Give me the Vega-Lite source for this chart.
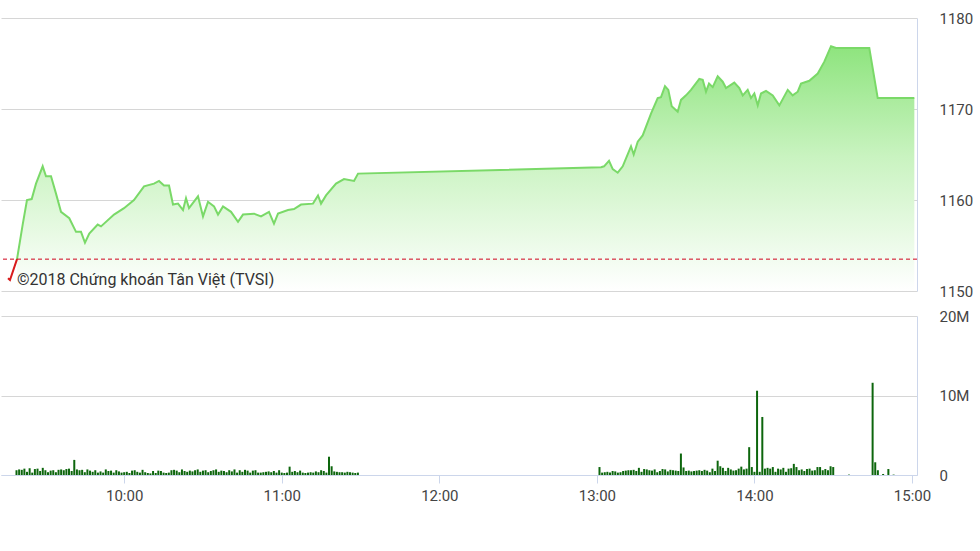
{
  "$schema": "https://vega.github.io/schema/vega-lite/v6.json",
  "padding": {"left": 0, "top": 11, "right": 0, "bottom": 0},
  "background": "white",
  "spacing": 25,
  "bounds": "flush",
  "config": {
    "view": {"stroke": null},
    "font": "Roboto",
    "axis": {"labelFont": "Roboto", "labelFontSize": 15, "labelColor": "#444444", "gridColor": "#d6d6d6", "domainColor": "#ccd6eb", "tickColor": "#ccd6eb", "title": null}
  },
  "datasets": {
    "open": [
      {"t": "2018/01/01 09:17:38", "p": 1151.4},
      {"t": "2018/01/01 09:18:23", "p": 1151.2},
      {"t": "2018/01/01 09:21:02", "p": 1153.5}
    ],
    "price": [
      {"t": "2018/01/01 09:21:02", "p": 1153.5},
      {"t": "2018/01/01 09:23:10", "p": 1157.3},
      {"t": "2018/01/01 09:24:47", "p": 1160.0},
      {"t": "2018/01/01 09:26:34", "p": 1160.1},
      {"t": "2018/01/01 09:28:11", "p": 1161.8},
      {"t": "2018/01/01 09:30:42", "p": 1163.7},
      {"t": "2018/01/01 09:31:57", "p": 1162.6},
      {"t": "2018/01/01 09:33:50", "p": 1162.6},
      {"t": "2018/01/01 09:35:43", "p": 1160.7},
      {"t": "2018/01/01 09:37:36", "p": 1158.7},
      {"t": "2018/01/01 09:40:43", "p": 1158.0},
      {"t": "2018/01/01 09:43:15", "p": 1156.5},
      {"t": "2018/01/01 09:45:08", "p": 1156.5},
      {"t": "2018/01/01 09:46:38", "p": 1155.3},
      {"t": "2018/01/01 09:48:15", "p": 1156.3},
      {"t": "2018/01/01 09:51:25", "p": 1157.3},
      {"t": "2018/01/01 09:52:40", "p": 1157.1},
      {"t": "2018/01/01 09:57:34", "p": 1158.4},
      {"t": "2018/01/01 10:01:20", "p": 1159.1},
      {"t": "2018/01/01 10:05:05", "p": 1160.0},
      {"t": "2018/01/01 10:08:52", "p": 1161.5},
      {"t": "2018/01/01 10:12:38", "p": 1161.8},
      {"t": "2018/01/01 10:14:31", "p": 1162.1},
      {"t": "2018/01/01 10:16:23", "p": 1161.6},
      {"t": "2018/01/01 10:18:17", "p": 1161.6},
      {"t": "2018/01/01 10:19:47", "p": 1159.5},
      {"t": "2018/01/01 10:21:40", "p": 1159.6},
      {"t": "2018/01/01 10:23:33", "p": 1158.9},
      {"t": "2018/01/01 10:24:41", "p": 1160.2},
      {"t": "2018/01/01 10:25:49", "p": 1159.1},
      {"t": "2018/01/01 10:29:12", "p": 1160.4},
      {"t": "2018/01/01 10:31:05", "p": 1158.2},
      {"t": "2018/01/01 10:32:58", "p": 1159.8},
      {"t": "2018/01/01 10:35:14", "p": 1159.3},
      {"t": "2018/01/01 10:36:44", "p": 1158.4},
      {"t": "2018/01/01 10:38:37", "p": 1159.3},
      {"t": "2018/01/01 10:41:38", "p": 1158.7},
      {"t": "2018/01/01 10:44:16", "p": 1157.6},
      {"t": "2018/01/01 10:46:09", "p": 1158.4},
      {"t": "2018/01/01 10:50:17", "p": 1158.5},
      {"t": "2018/01/01 10:52:56", "p": 1158.2},
      {"t": "2018/01/01 10:55:56", "p": 1158.7},
      {"t": "2018/01/01 10:57:49", "p": 1157.4},
      {"t": "2018/01/01 10:59:20", "p": 1158.5},
      {"t": "2018/01/01 11:03:06", "p": 1158.9},
      {"t": "2018/01/01 11:05:22", "p": 1159.0},
      {"t": "2018/01/01 11:08:00", "p": 1159.5},
      {"t": "2018/01/01 11:12:31", "p": 1159.6},
      {"t": "2018/01/01 11:14:24", "p": 1160.5},
      {"t": "2018/01/01 11:15:32", "p": 1159.6},
      {"t": "2018/01/01 11:17:25", "p": 1160.5},
      {"t": "2018/01/01 11:21:11", "p": 1161.8},
      {"t": "2018/01/01 11:24:11", "p": 1162.3},
      {"t": "2018/01/01 11:27:58", "p": 1162.1},
      {"t": "2018/01/01 11:29:28", "p": 1162.9},
      {"t": "2018/01/01 13:01:00", "p": 1163.6},
      {"t": "2018/01/01 13:02:08", "p": 1163.7},
      {"t": "2018/01/01 13:04:00", "p": 1164.3},
      {"t": "2018/01/01 13:05:24", "p": 1163.4},
      {"t": "2018/01/01 13:07:17", "p": 1163.0},
      {"t": "2018/01/01 13:09:10", "p": 1163.7},
      {"t": "2018/01/01 13:12:17", "p": 1165.9},
      {"t": "2018/01/01 13:13:18", "p": 1165.0},
      {"t": "2018/01/01 13:14:49", "p": 1166.4},
      {"t": "2018/01/01 13:16:41", "p": 1167.1},
      {"t": "2018/01/01 13:19:49", "p": 1169.5},
      {"t": "2018/01/01 13:22:20", "p": 1171.2},
      {"t": "2018/01/01 13:23:35", "p": 1171.3},
      {"t": "2018/01/01 13:25:05", "p": 1172.5},
      {"t": "2018/01/01 13:26:20", "p": 1172.1},
      {"t": "2018/01/01 13:27:37", "p": 1170.3},
      {"t": "2018/01/01 13:29:52", "p": 1169.7},
      {"t": "2018/01/01 13:31:07", "p": 1171.0},
      {"t": "2018/01/01 13:33:00", "p": 1171.5},
      {"t": "2018/01/01 13:34:53", "p": 1172.1},
      {"t": "2018/01/01 13:38:01", "p": 1173.3},
      {"t": "2018/01/01 13:39:18", "p": 1173.2},
      {"t": "2018/01/01 13:40:32", "p": 1171.9},
      {"t": "2018/01/01 13:41:40", "p": 1172.8},
      {"t": "2018/01/01 13:43:04", "p": 1172.4},
      {"t": "2018/01/01 13:44:56", "p": 1173.6},
      {"t": "2018/01/01 13:46:49", "p": 1173.0},
      {"t": "2018/01/01 13:48:04", "p": 1172.3},
      {"t": "2018/01/01 13:51:11", "p": 1172.9},
      {"t": "2018/01/01 13:53:05", "p": 1172.3},
      {"t": "2018/01/01 13:54:22", "p": 1171.5},
      {"t": "2018/01/01 13:56:14", "p": 1172.1},
      {"t": "2018/01/01 13:57:29", "p": 1171.2},
      {"t": "2018/01/01 13:58:44", "p": 1171.7},
      {"t": "2018/01/01 14:00:01", "p": 1170.4},
      {"t": "2018/01/01 14:01:15", "p": 1171.7},
      {"t": "2018/01/01 14:03:08", "p": 1172.0},
      {"t": "2018/01/01 14:05:40", "p": 1171.5},
      {"t": "2018/01/01 14:08:09", "p": 1170.4},
      {"t": "2018/01/01 14:11:19", "p": 1172.1},
      {"t": "2018/01/01 14:13:11", "p": 1171.5},
      {"t": "2018/01/01 14:15:05", "p": 1171.9},
      {"t": "2018/01/01 14:16:19", "p": 1172.8},
      {"t": "2018/01/01 14:19:27", "p": 1173.1},
      {"t": "2018/01/01 14:22:37", "p": 1173.9},
      {"t": "2018/01/01 14:25:06", "p": 1175.2},
      {"t": "2018/01/01 14:27:37", "p": 1176.9},
      {"t": "2018/01/01 14:29:30", "p": 1176.7},
      {"t": "2018/01/01 14:42:02", "p": 1176.7},
      {"t": "2018/01/01 14:45:12", "p": 1171.2},
      {"t": "2018/01/01 14:59:00", "p": 1171.2}
    ],
    "volume": [
      {"t": "2018/01/01 09:19", "v": 600000},
      {"t": "2018/01/01 09:20", "v": 700000},
      {"t": "2018/01/01 09:21", "v": 650000},
      {"t": "2018/01/01 09:22", "v": 800000},
      {"t": "2018/01/01 09:23", "v": 400000},
      {"t": "2018/01/01 09:24", "v": 850000},
      {"t": "2018/01/01 09:25", "v": 300000},
      {"t": "2018/01/01 09:26", "v": 750000},
      {"t": "2018/01/01 09:27", "v": 800000},
      {"t": "2018/01/01 09:28", "v": 500000},
      {"t": "2018/01/01 09:29", "v": 900000},
      {"t": "2018/01/01 09:30", "v": 600000},
      {"t": "2018/01/01 09:31", "v": 350000},
      {"t": "2018/01/01 09:32", "v": 550000},
      {"t": "2018/01/01 09:33", "v": 600000},
      {"t": "2018/01/01 09:34", "v": 350000},
      {"t": "2018/01/01 09:35", "v": 650000},
      {"t": "2018/01/01 09:36", "v": 700000},
      {"t": "2018/01/01 09:37", "v": 600000},
      {"t": "2018/01/01 09:38", "v": 750000},
      {"t": "2018/01/01 09:39", "v": 800000},
      {"t": "2018/01/01 09:40", "v": 500000},
      {"t": "2018/01/01 09:41", "v": 1900000},
      {"t": "2018/01/01 09:42", "v": 700000},
      {"t": "2018/01/01 09:43", "v": 600000},
      {"t": "2018/01/01 09:44", "v": 650000},
      {"t": "2018/01/01 09:45", "v": 350000},
      {"t": "2018/01/01 09:46", "v": 700000},
      {"t": "2018/01/01 09:47", "v": 550000},
      {"t": "2018/01/01 09:48", "v": 400000},
      {"t": "2018/01/01 09:49", "v": 600000},
      {"t": "2018/01/01 09:50", "v": 300000},
      {"t": "2018/01/01 09:51", "v": 450000},
      {"t": "2018/01/01 09:52", "v": 300000},
      {"t": "2018/01/01 09:53", "v": 700000},
      {"t": "2018/01/01 09:54", "v": 500000},
      {"t": "2018/01/01 09:55", "v": 550000},
      {"t": "2018/01/01 09:56", "v": 300000},
      {"t": "2018/01/01 09:57", "v": 600000},
      {"t": "2018/01/01 09:58", "v": 450000},
      {"t": "2018/01/01 09:59", "v": 300000},
      {"t": "2018/01/01 10:00", "v": 350000},
      {"t": "2018/01/01 10:01", "v": 400000},
      {"t": "2018/01/01 10:02", "v": 250000},
      {"t": "2018/01/01 10:03", "v": 550000},
      {"t": "2018/01/01 10:04", "v": 600000},
      {"t": "2018/01/01 10:05", "v": 400000},
      {"t": "2018/01/01 10:06", "v": 300000},
      {"t": "2018/01/01 10:07", "v": 650000},
      {"t": "2018/01/01 10:08", "v": 350000},
      {"t": "2018/01/01 10:09", "v": 250000},
      {"t": "2018/01/01 10:10", "v": 200000},
      {"t": "2018/01/01 10:11", "v": 500000},
      {"t": "2018/01/01 10:12", "v": 250000},
      {"t": "2018/01/01 10:13", "v": 550000},
      {"t": "2018/01/01 10:14", "v": 500000},
      {"t": "2018/01/01 10:15", "v": 300000},
      {"t": "2018/01/01 10:16", "v": 250000},
      {"t": "2018/01/01 10:17", "v": 300000},
      {"t": "2018/01/01 10:18", "v": 600000},
      {"t": "2018/01/01 10:19", "v": 650000},
      {"t": "2018/01/01 10:20", "v": 550000},
      {"t": "2018/01/01 10:21", "v": 350000},
      {"t": "2018/01/01 10:22", "v": 700000},
      {"t": "2018/01/01 10:23", "v": 500000},
      {"t": "2018/01/01 10:24", "v": 400000},
      {"t": "2018/01/01 10:25", "v": 550000},
      {"t": "2018/01/01 10:26", "v": 450000},
      {"t": "2018/01/01 10:27", "v": 600000},
      {"t": "2018/01/01 10:28", "v": 700000},
      {"t": "2018/01/01 10:29", "v": 400000},
      {"t": "2018/01/01 10:30", "v": 550000},
      {"t": "2018/01/01 10:31", "v": 600000},
      {"t": "2018/01/01 10:32", "v": 350000},
      {"t": "2018/01/01 10:33", "v": 500000},
      {"t": "2018/01/01 10:34", "v": 600000},
      {"t": "2018/01/01 10:35", "v": 700000},
      {"t": "2018/01/01 10:36", "v": 400000},
      {"t": "2018/01/01 10:37", "v": 550000},
      {"t": "2018/01/01 10:38", "v": 500000},
      {"t": "2018/01/01 10:39", "v": 350000},
      {"t": "2018/01/01 10:40", "v": 600000},
      {"t": "2018/01/01 10:41", "v": 450000},
      {"t": "2018/01/01 10:42", "v": 700000},
      {"t": "2018/01/01 10:43", "v": 300000},
      {"t": "2018/01/01 10:44", "v": 600000},
      {"t": "2018/01/01 10:45", "v": 400000},
      {"t": "2018/01/01 10:46", "v": 650000},
      {"t": "2018/01/01 10:47", "v": 550000},
      {"t": "2018/01/01 10:48", "v": 300000},
      {"t": "2018/01/01 10:49", "v": 550000},
      {"t": "2018/01/01 10:50", "v": 600000},
      {"t": "2018/01/01 10:51", "v": 300000},
      {"t": "2018/01/01 10:52", "v": 300000},
      {"t": "2018/01/01 10:53", "v": 350000},
      {"t": "2018/01/01 10:54", "v": 400000},
      {"t": "2018/01/01 10:55", "v": 450000},
      {"t": "2018/01/01 10:56", "v": 350000},
      {"t": "2018/01/01 10:57", "v": 500000},
      {"t": "2018/01/01 10:58", "v": 300000},
      {"t": "2018/01/01 10:59", "v": 600000},
      {"t": "2018/01/01 11:00", "v": 300000},
      {"t": "2018/01/01 11:01", "v": 250000},
      {"t": "2018/01/01 11:02", "v": 300000},
      {"t": "2018/01/01 11:03", "v": 1050000},
      {"t": "2018/01/01 11:04", "v": 400000},
      {"t": "2018/01/01 11:05", "v": 500000},
      {"t": "2018/01/01 11:06", "v": 350000},
      {"t": "2018/01/01 11:07", "v": 550000},
      {"t": "2018/01/01 11:08", "v": 300000},
      {"t": "2018/01/01 11:09", "v": 250000},
      {"t": "2018/01/01 11:10", "v": 300000},
      {"t": "2018/01/01 11:11", "v": 350000},
      {"t": "2018/01/01 11:12", "v": 300000},
      {"t": "2018/01/01 11:13", "v": 450000},
      {"t": "2018/01/01 11:14", "v": 350000},
      {"t": "2018/01/01 11:15", "v": 600000},
      {"t": "2018/01/01 11:16", "v": 500000},
      {"t": "2018/01/01 11:17", "v": 300000},
      {"t": "2018/01/01 11:18", "v": 2300000},
      {"t": "2018/01/01 11:19", "v": 1100000},
      {"t": "2018/01/01 11:20", "v": 450000},
      {"t": "2018/01/01 11:21", "v": 400000},
      {"t": "2018/01/01 11:22", "v": 350000},
      {"t": "2018/01/01 11:23", "v": 350000},
      {"t": "2018/01/01 11:24", "v": 300000},
      {"t": "2018/01/01 11:25", "v": 400000},
      {"t": "2018/01/01 11:26", "v": 350000},
      {"t": "2018/01/01 11:27", "v": 300000},
      {"t": "2018/01/01 11:28", "v": 250000},
      {"t": "2018/01/01 11:29", "v": 300000},
      {"t": "2018/01/01 13:01", "v": 1000000},
      {"t": "2018/01/01 13:02", "v": 300000},
      {"t": "2018/01/01 13:03", "v": 350000},
      {"t": "2018/01/01 13:04", "v": 400000},
      {"t": "2018/01/01 13:05", "v": 300000},
      {"t": "2018/01/01 13:06", "v": 500000},
      {"t": "2018/01/01 13:07", "v": 450000},
      {"t": "2018/01/01 13:08", "v": 300000},
      {"t": "2018/01/01 13:09", "v": 350000},
      {"t": "2018/01/01 13:10", "v": 500000},
      {"t": "2018/01/01 13:11", "v": 550000},
      {"t": "2018/01/01 13:12", "v": 600000},
      {"t": "2018/01/01 13:13", "v": 600000},
      {"t": "2018/01/01 13:14", "v": 650000},
      {"t": "2018/01/01 13:15", "v": 500000},
      {"t": "2018/01/01 13:16", "v": 900000},
      {"t": "2018/01/01 13:17", "v": 400000},
      {"t": "2018/01/01 13:18", "v": 750000},
      {"t": "2018/01/01 13:19", "v": 700000},
      {"t": "2018/01/01 13:20", "v": 600000},
      {"t": "2018/01/01 13:21", "v": 550000},
      {"t": "2018/01/01 13:22", "v": 700000},
      {"t": "2018/01/01 13:23", "v": 350000},
      {"t": "2018/01/01 13:24", "v": 500000},
      {"t": "2018/01/01 13:25", "v": 750000},
      {"t": "2018/01/01 13:26", "v": 700000},
      {"t": "2018/01/01 13:27", "v": 450000},
      {"t": "2018/01/01 13:28", "v": 650000},
      {"t": "2018/01/01 13:29", "v": 600000},
      {"t": "2018/01/01 13:30", "v": 550000},
      {"t": "2018/01/01 13:31", "v": 500000},
      {"t": "2018/01/01 13:32", "v": 2700000},
      {"t": "2018/01/01 13:33", "v": 950000},
      {"t": "2018/01/01 13:34", "v": 500000},
      {"t": "2018/01/01 13:35", "v": 550000},
      {"t": "2018/01/01 13:36", "v": 450000},
      {"t": "2018/01/01 13:37", "v": 500000},
      {"t": "2018/01/01 13:38", "v": 550000},
      {"t": "2018/01/01 13:39", "v": 600000},
      {"t": "2018/01/01 13:40", "v": 500000},
      {"t": "2018/01/01 13:41", "v": 650000},
      {"t": "2018/01/01 13:42", "v": 550000},
      {"t": "2018/01/01 13:43", "v": 350000},
      {"t": "2018/01/01 13:44", "v": 800000},
      {"t": "2018/01/01 13:45", "v": 500000},
      {"t": "2018/01/01 13:46", "v": 1800000},
      {"t": "2018/01/01 13:47", "v": 1100000},
      {"t": "2018/01/01 13:48", "v": 900000},
      {"t": "2018/01/01 13:49", "v": 500000},
      {"t": "2018/01/01 13:50", "v": 900000},
      {"t": "2018/01/01 13:51", "v": 700000},
      {"t": "2018/01/01 13:52", "v": 550000},
      {"t": "2018/01/01 13:53", "v": 600000},
      {"t": "2018/01/01 13:54", "v": 800000},
      {"t": "2018/01/01 13:55", "v": 1050000},
      {"t": "2018/01/01 13:56", "v": 700000},
      {"t": "2018/01/01 13:57", "v": 800000},
      {"t": "2018/01/01 13:58", "v": 3500000},
      {"t": "2018/01/01 13:59", "v": 1000000},
      {"t": "2018/01/01 14:00", "v": 400000},
      {"t": "2018/01/01 14:01", "v": 10600000},
      {"t": "2018/01/01 14:02", "v": 400000},
      {"t": "2018/01/01 14:03", "v": 7300000},
      {"t": "2018/01/01 14:04", "v": 800000},
      {"t": "2018/01/01 14:05", "v": 900000},
      {"t": "2018/01/01 14:06", "v": 800000},
      {"t": "2018/01/01 14:07", "v": 1000000},
      {"t": "2018/01/01 14:08", "v": 400000},
      {"t": "2018/01/01 14:09", "v": 800000},
      {"t": "2018/01/01 14:10", "v": 700000},
      {"t": "2018/01/01 14:11", "v": 900000},
      {"t": "2018/01/01 14:12", "v": 400000},
      {"t": "2018/01/01 14:13", "v": 800000},
      {"t": "2018/01/01 14:14", "v": 850000},
      {"t": "2018/01/01 14:15", "v": 1400000},
      {"t": "2018/01/01 14:16", "v": 1000000},
      {"t": "2018/01/01 14:17", "v": 600000},
      {"t": "2018/01/01 14:18", "v": 700000},
      {"t": "2018/01/01 14:19", "v": 500000},
      {"t": "2018/01/01 14:20", "v": 750000},
      {"t": "2018/01/01 14:21", "v": 800000},
      {"t": "2018/01/01 14:22", "v": 550000},
      {"t": "2018/01/01 14:23", "v": 600000},
      {"t": "2018/01/01 14:24", "v": 1000000},
      {"t": "2018/01/01 14:25", "v": 1000000},
      {"t": "2018/01/01 14:26", "v": 600000},
      {"t": "2018/01/01 14:27", "v": 750000},
      {"t": "2018/01/01 14:28", "v": 600000},
      {"t": "2018/01/01 14:29", "v": 1100000},
      {"t": "2018/01/01 14:30", "v": 1000000},
      {"t": "2018/01/01 14:36", "v": 50000},
      {"t": "2018/01/01 14:45", "v": 11600000},
      {"t": "2018/01/01 14:46", "v": 1600000},
      {"t": "2018/01/01 14:47", "v": 600000},
      {"t": "2018/01/01 14:49", "v": 130000},
      {"t": "2018/01/01 14:51", "v": 750000},
      {"t": "2018/01/01 14:53", "v": 50000}
    ]
  },
  "vconcat": [
    {
      "width": 916,
      "height": 273,
      "layer": [
        {
          "data": {"name": "price"},
          "mark": {"type": "area", "line": false, "color": {"gradient": "linear", "x1": 1, "y1": 1, "x2": 1, "y2": 0, "stops": [{"offset": 0, "color": "#ffffff"}, {"offset": 0.55, "color": "#c9f3c0"}, {"offset": 1, "color": "#8ee47e"}]}},
          "encoding": {
            "x": {"field": "t", "type": "temporal", "scale": {"domain": [{"year": 2018, "month": 1, "date": 1, "hours": 9, "minutes": 15}, {"year": 2018, "month": 1, "date": 1, "hours": 15, "minutes": 0}]}, "axis": null},
            "y": {"field": "p", "type": "quantitative", "scale": {"domain": [1150, 1180], "zero": false}, "axis": {"orient": "right", "values": [1150, 1160, 1170, 1180], "format": "d", "grid": true, "ticks": false, "tickSize": 0, "labelPadding": 22, "domain": true}},
            "y2": {"datum": 1150}
          }
        },
        {
          "data": {"name": "price"},
          "mark": {"type": "line", "color": "#7ad968", "strokeWidth": 2},
          "encoding": {
            "x": {"field": "t", "type": "temporal"},
            "y": {"field": "p", "type": "quantitative"}
          }
        },
        {
          "data": {"name": "open"},
          "mark": {"type": "line", "color": "#d81b1b", "strokeWidth": 2},
          "encoding": {
            "x": {"field": "t", "type": "temporal"},
            "y": {"field": "p", "type": "quantitative"}
          }
        },
        {
          "data": {"values": [{}]},
          "mark": {"type": "rule", "color": "#d0021b", "strokeDash": [4, 3], "strokeWidth": 1},
          "encoding": {"y": {"datum": 1153.5}}
        },
        {
          "data": {"values": [{}]},
          "mark": {"type": "text", "align": "left", "baseline": "middle", "font": "Roboto", "fontSize": 16, "color": "#333333"},
          "encoding": {
            "x": {"datum": {"year": 2018, "month": 1, "date": 1, "hours": 9, "minutes": 21}},
            "y": {"datum": 1151.2},
            "text": {"value": "©2018 Chứng khoán Tân Việt (TVSI)"}
          }
        }
      ]
    },
    {
      "width": 916,
      "height": 159,
      "data": {"name": "volume"},
      "mark": {"type": "bar", "color": "#0d660d", "size": 2},
      "encoding": {
        "x": {"field": "t", "type": "temporal", "scale": {"domain": [{"year": 2018, "month": 1, "date": 1, "hours": 9, "minutes": 15}, {"year": 2018, "month": 1, "date": 1, "hours": 15, "minutes": 0}]}, "axis": {"format": "%H:%M", "values": [{"year": 2018, "month": 1, "date": 1, "hours": 10}, {"year": 2018, "month": 1, "date": 1, "hours": 11}, {"year": 2018, "month": 1, "date": 1, "hours": 12}, {"year": 2018, "month": 1, "date": 1, "hours": 13}, {"year": 2018, "month": 1, "date": 1, "hours": 14}, {"year": 2018, "month": 1, "date": 1, "hours": 15}], "grid": false, "tickSize": 8, "labelPadding": 5, "labelFlush": false, "labelOverlap": false}},
        "y": {"field": "v", "type": "quantitative", "scale": {"domain": [0, 20000000]}, "axis": {"orient": "right", "values": [0, 10000000, 20000000], "labelExpr": "datum.value == 0 ? '0' : format(datum.value, '~s')", "grid": true, "ticks": false, "tickSize": 0, "labelPadding": 22}}
      }
    }
  ]
}
